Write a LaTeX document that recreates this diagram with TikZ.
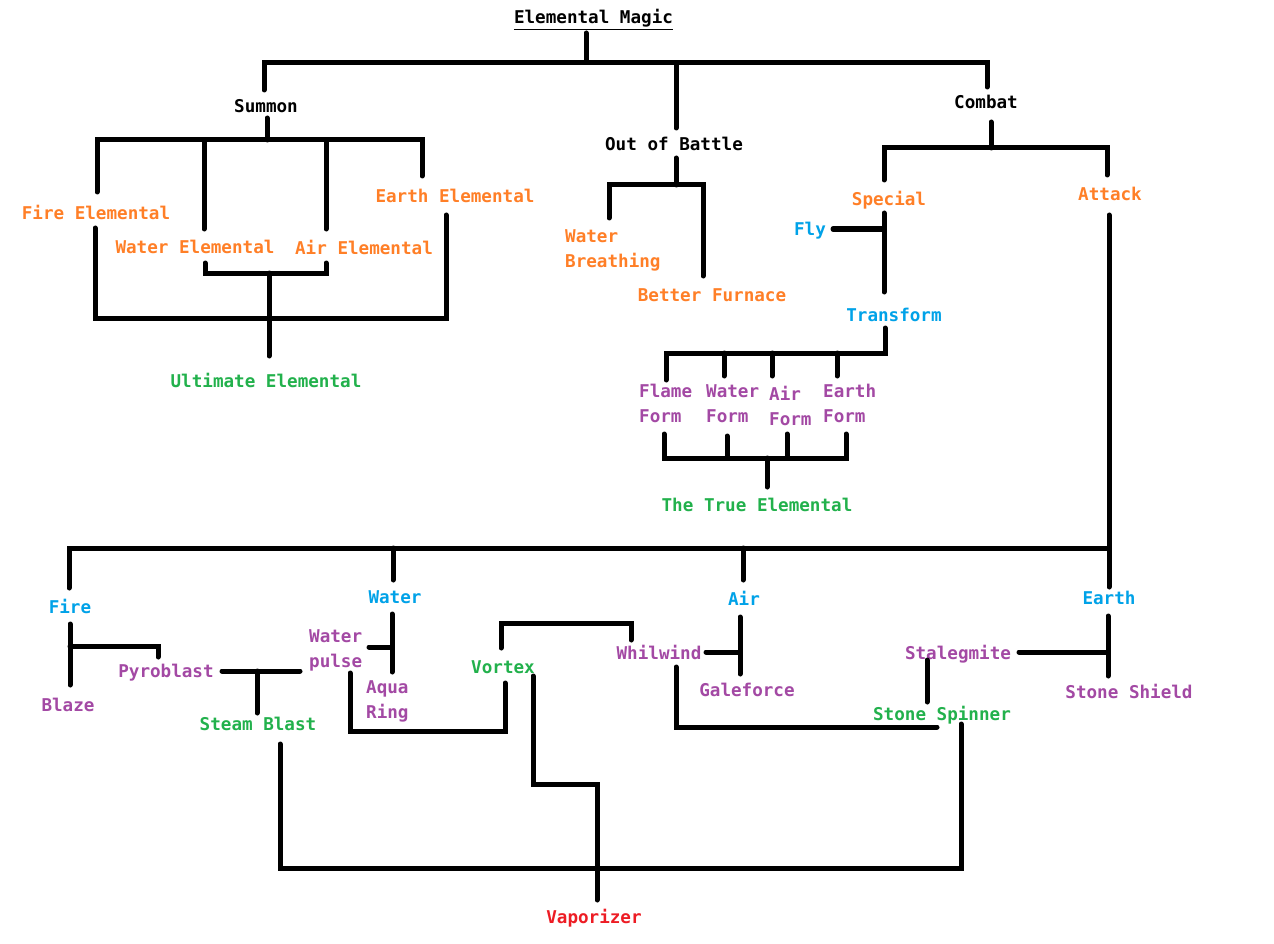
\documentclass[tikz,border=0pt]{standalone}
\usepackage{fontspec}
\newfontfamily\pxfont{DejaVu Sans Mono}
\definecolor{orng}{HTML}{FF7F27}
\definecolor{blu}{HTML}{00A2E8}
\definecolor{grn}{HTML}{22B14C}
\definecolor{prp}{HTML}{A349A4}
\definecolor{rd}{HTML}{ED1C24}
\begin{document}
\begin{tikzpicture}[x=1pt,y=-1pt,
  lbl/.style={inner sep=0pt, anchor=north, font=\pxfont\bfseries\fontsize{17.6}{25}\selectfont},
  ml/.style={lbl, anchor=north west, align=left},
  wire/.style={line width=5pt, line cap=round, line join=miter}]
\fill[white] (0,0) rectangle (1274,944);
\useasboundingbox (0,0) rectangle (1274,944);
% ---------- nodes ----------
\node[lbl] (magic) at (593.5,9) {Elemental Magic};
\node[lbl] (summon) at (266,99) {Summon};
\node[lbl] (oob) at (674,137) {Out of Battle};
\node[lbl] (combat) at (986,95) {Combat};
\node[lbl,orng] (fireel) at (96,205) {Fire Elemental};
\node[lbl,orng] (waterel) at (195,240) {Water Elemental};
\node[lbl,orng] (airel) at (364,240) {Air Elemental};
\node[lbl,orng] (earthel) at (455,189) {Earth Elemental};
\node[lbl,grn] (ultimate) at (266,373) {Ultimate Elemental};
\node[ml,orng] (breath) at (565,229) {Water\\Breathing};
\node[lbl,orng] (furnace) at (712,288) {Better Furnace};
\node[lbl,orng] (special) at (889,191) {Special};
\node[lbl,orng] (attack) at (1110,187) {Attack};
\node[lbl,blu] (fly) at (810,222) {Fly};
\node[lbl,blu] (transform) at (894,308) {Transform};
\node[ml,prp] (flame) at (639,384) {Flame\\Form};
\node[ml,prp] (waterform) at (706,384) {Water\\Form};
\node[ml,prp] (airform) at (769,386) {Air\\Form};
\node[ml,prp] (earthform) at (823,384) {Earth\\Form};
\node[lbl,grn] (trueel) at (757,498) {The True Elemental};
\node[lbl,blu] (fire) at (70,599) {Fire};
\node[lbl,blu] (water) at (395,590) {Water};
\node[lbl,blu] (air) at (744,591) {Air};
\node[lbl,blu] (earth) at (1109,591) {Earth};
\node[lbl,prp] (blaze) at (68,698) {Blaze};
\node[lbl,prp] (pyro) at (166,664) {Pyroblast};
\node[lbl,grn] (steam) at (258,717) {Steam Blast};
\node[ml,prp] (pulse) at (309,629) {Water\\pulse};
\node[ml,prp] (aqua) at (366,680) {Aqua\\Ring};
\node[lbl,grn] (vortex) at (503,660) {Vortex};
\node[lbl,prp] (whil) at (659,645) {Whilwind};
\node[lbl,prp] (gale) at (747,683) {Galeforce};
\node[lbl,prp] (stal) at (958,645) {Stalegmite};
\node[lbl,prp] (shield) at (1129,684) {Stone Shield};
\node[lbl,grn] (spinner) at (942,706) {Stone Spinner};
\node[lbl,rd] (vapor) at (594,909) {Vaporizer};
\draw[line width=1.5pt] (magic.south west) ++(0,2) -- ++(159,0);
% ---------- connectors ----------
\draw[wire] (586,33) -- (586,62);
\draw[wire] (264,90) -- (264,63) -- (987,63) -- (987,87);
\draw[wire] (676,63) -- (676,128);
% summon
\draw[wire] (267,118) -- (267,140);
\draw[wire] (97,192) -- (97,140) -- (422,140) -- (422,176);
\draw[wire] (204,140) -- (204,229);
\draw[wire] (326,140) -- (326,229);
\draw[wire] (205,263) -- (205,273) -- (326,273) -- (326,263);
\draw[wire] (269,273) -- (269,356);
\draw[wire] (95,228) -- (95,318) -- (446,318) -- (446,215);
% out of battle
\draw[wire] (676,158) -- (676,185);
\draw[wire] (609,218) -- (609,185) -- (703,185) -- (703,276);
% combat
\draw[wire] (991,122) -- (991,148);
\draw[wire] (884,180) -- (884,148) -- (1107,148) -- (1107,175);
% special
\draw[wire] (884,213) -- (884,292);
\draw[wire] (833,229) -- (884,229);
% transform
\draw[wire] (885,328) -- (885,353) -- (666,353) -- (666,380);
\draw[wire] (724,353) -- (724,376);
\draw[wire] (772,353) -- (772,376);
\draw[wire] (837,353) -- (837,376);
\draw[wire] (664,434) -- (664,458) -- (846,458) -- (846,434);
\draw[wire] (727,436) -- (727,458);
\draw[wire] (787,434) -- (787,458);
\draw[wire] (767,458) -- (767,487);
% attack
\draw[wire] (1109,215) -- (1109,587);
\draw[wire] (69,588) -- (69,548) -- (1109,548);
\draw[wire] (393,548) -- (393,580);
\draw[wire] (743,548) -- (743,580);
% fire
\draw[wire] (70,624) -- (70,685);
\draw[wire] (70,646) -- (158,646) -- (158,657);
\draw[wire] (222,671) -- (300,671);
\draw[wire] (257,671) -- (257,713);
% water
\draw[wire] (392,614) -- (392,672);
\draw[wire] (369,647) -- (392,647);
\draw[wire] (350,673) -- (350,731) -- (505,731) -- (505,683);
\draw[wire] (501,648) -- (501,623) -- (631,623) -- (631,640);
\draw[wire] (533,676) -- (533,784) -- (597,784) -- (597,900);
\draw[wire] (280,744) -- (280,868) -- (961,868) -- (961,724);
% air
\draw[wire] (740,617) -- (740,674);
\draw[wire] (706,652) -- (740,652);
\draw[wire] (676,667) -- (676,727) -- (937,727);
% earth
\draw[wire] (1108,616) -- (1108,676);
\draw[wire] (1019,652) -- (1108,652);
\draw[wire] (927,660) -- (927,702);
\end{tikzpicture}
\end{document}
